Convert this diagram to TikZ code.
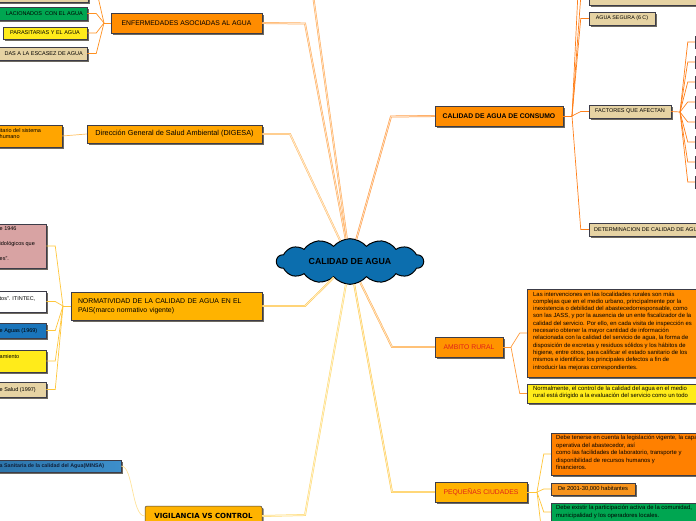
\documentclass[tikz,border=0pt]{standalone}
\usepackage{fontspec}
\setmainfont{Liberation Sans}
\newfontfamily\verd{DejaVu Sans}
\usetikzlibrary{shapes.symbols,shadows,calc}
\definecolor{bord}{HTML}{3C3C48}
\definecolor{shad}{HTML}{6E6A60}
\definecolor{orA}{HTML}{FF8C00}
\definecolor{orB}{HTML}{FFA500}
\definecolor{orC}{HTML}{FFB300}
\definecolor{orD}{HTML}{FF9400}
\definecolor{orE}{HTML}{FF8000}
\definecolor{orF}{HTML}{F7941D}
\definecolor{tanc}{HTML}{E6D3A3}
\definecolor{yel}{HTML}{FFEB1A}
\definecolor{grn}{HTML}{00A651}
\definecolor{pink}{HTML}{D8A3A3}
\definecolor{bluec}{HTML}{1A75BB}
\definecolor{cblue}{HTML}{0C6EAE}
\definecolor{vl}{HTML}{1F5F90}
\definecolor{vr}{HTML}{3D8FCB}
\definecolor{navy}{HTML}{10203A}
\definecolor{redt}{HTML}{E0201B}
\definecolor{lENF}{HTML}{FF9020}
\definecolor{lDIG}{HTML}{FFC060}
\definecolor{lNOR}{HTML}{FFC63A}
\definecolor{lVIG}{HTML}{FFE39A}
\definecolor{lCON}{HTML}{FF7F1A}
\definecolor{lAMB}{HTML}{FF9A3A}
\definecolor{lPEQ}{HTML}{FFC437}
\definecolor{mENF}{HTML}{FFAA55}
\definecolor{mDIG}{HTML}{FFC070}
\definecolor{mNOR}{HTML}{FFC850}
\definecolor{mVIG}{HTML}{FFDA70}
\definecolor{mCON}{HTML}{FF9A40}
\definecolor{mAMB}{HTML}{FFB050}
\definecolor{mPEQ}{HTML}{FFCC50}
\begin{document}
\begin{tikzpicture}[x=1pt,y=-1pt,
  bx/.style={draw=bord,line width=0.5pt,inner sep=0pt,align=center,
    drop shadow={shadow xshift=1.7pt,shadow yshift=-1.7pt,fill=shad,opacity=1}},
  lbl/.style={inner sep=0pt,align=left},
  sm/.style={font=\fontsize{5.5}{6.2}\selectfont},
  cl/.style={draw=#1,line width=0.7pt},
  ml/.style={draw=#1,line width=0.5pt,double=#1!35!white,double distance=0.9pt}]
\useasboundingbox (0,0) rectangle (696,520);

% ---------- centre ----------
\node[cloud,cloud puffs=14,cloud puff arc=100,aspect=3.4,minimum width=147pt,minimum height=44pt,
  inner sep=0pt,fill=cblue,draw=black,line width=1pt,font=\bfseries\fontsize{8.8}{10}\selectfont] (cl) at (350,261.5) {CALIDAD DE AGUA};

% ---------- ENFERMEDADES ----------
\node[bx,fill=orA,minimum width=151pt,minimum height=20pt,font=\fontsize{6.8}{8}\selectfont] (ENF) at (186.5,23) {ENFERMEDADES ASOCIADAS AL AGUA};
\node[bx,fill=tanc,minimum width=128pt,minimum height=17pt] (enf0) at (24,-6.5) {};
\node[bx,fill=grn,minimum width=127pt,minimum height=13pt] (enf1) at (23.5,13.5) {};
\node[lbl,sm,anchor=east] (enf1t) at (83,13.7) {LACIONADOS\ \ CON EL AGUA};
\node[bx,fill=yel,minimum width=84pt,minimum height=12pt,sm] (enf2) at (45,33) {PARASITARIAS Y EL AGUA};
\node[bx,fill=tanc,minimum width=127pt,minimum height=13pt] (enf3) at (23.5,53.5) {};
\node[lbl,sm,anchor=east] (enf3t) at (83,53.7) {DAS A LA ESCASEZ DE AGUA};
\coordinate (ej) at (104,23);
\draw[cl=lENF] (ENF.west) -- (ej);
\draw[cl=lENF] (ej) -- ([xshift=9pt]enf0.east) -- (enf0.east);
\draw[cl=lENF] (ej) -- ([xshift=9pt]enf1.east) -- (enf1.east);
\draw[cl=lENF] (ej) -- ([xshift=9pt]enf2.east) -- (enf2.east);
\draw[cl=lENF] (ej) -- ([xshift=9pt]enf3.east) -- (enf3.east);

% ---------- DIGESA ----------
\node[bx,fill=orB,minimum width=175pt,minimum height=18pt,font=\fontsize{7.3}{8}\selectfont] (DIG) at (174.5,134) {Dirección General de Salud Ambiental (DIGESA)};
\node[bx,fill=orB,minimum width=122pt,minimum height=22pt] (dig1) at (1,136) {};
\node[lbl,sm,anchor=north west] (dig1t) at (-0.5,128.5) {itario del sistema\\humano};
\draw[cl=lDIG] (DIG.west) -- (dig1.east);

% ---------- NORMATIVIDAD ----------
\node[bx,fill=orC,minimum height=28pt,inner xsep=7pt,text width=177pt,align=left,font=\fontsize{6.9}{8.7}\selectfont] (NOR) at (166.5,306) {NORMATIVIDAD DE LA CALIDAD DE AGUA EN EL\\PAIS(marco normativo vigente)};
\node[bx,fill=pink,minimum width=106pt,minimum height=44pt] (nor1) at (-7,246) {};
\node[lbl,anchor=north west,font=\fontsize{5.5}{15}\selectfont] (nor1t) at (-0.5,226.5) {e 1946\\idológicos que\\es”.};
\node[bx,fill=white,minimum width=106pt,minimum height=21pt] (nor2) at (-7,301.5) {};
\node[lbl,sm,anchor=west] (nor2t) at (-0.5,298.5) {tos”. ITINTEC,};
\node[bx,fill=bluec,minimum width=106pt,minimum height=15pt] (nor3) at (-7,330.5) {};
\node[lbl,sm,anchor=west] (nor3t) at (-0.5,331) {e Aguas (1969)};
\node[bx,fill=yel,minimum width=106pt,minimum height=22pt] (nor4) at (-7,361) {};
\node[lbl,sm,anchor=west] (nor4t) at (-0.5,357) {amiento};
\node[bx,fill=tanc,minimum width=106pt,minimum height=15pt] (nor5) at (-7,389.5) {};
\node[lbl,sm,anchor=west] (nor5t) at (-0.5,390) {e Salud (1997)};
\coordinate (nj) at (63,306);
\draw[cl=lNOR] (NOR.west) -- (nj);
\foreach \n in {nor1,nor2,nor3,nor4,nor5}
  \draw[cl=lNOR] (nj) -- ([xshift=9pt]\n.east) -- (\n.east);

% ---------- VIGILANCIA ----------
\node[bx,fill=orC,rounded corners=2pt,minimum width=117pt,minimum height=20pt,font=\verd\bfseries\fontsize{7}{8}\selectfont] (VIG) at (203.5,516) {VIGILANCIA VS CONTROL};
\node[bx,left color=vl,right color=vr,minimum width=221pt,minimum height=12pt] (vig1) at (10.5,466) {};
\node[lbl,anchor=west,text=navy,font=\bfseries\fontsize{5.3}{6}\selectfont] (vig1t) at (-0.5,466) {a Sanitaria de la calidad del Agua(MINSA)};
\draw[cl=lVIG] (vig1.east) .. controls +(12,0) and +(-13,0) .. (VIG.west);

% ---------- CALIDAD DE AGUA DE CONSUMO ----------
\node[bx,fill=orA,minimum width=128pt,minimum height=20pt,font=\bfseries\fontsize{6.8}{8}\selectfont] (CON) at (499,116) {CALIDAD DE AGUA DE CONSUMO};
\node[bx,fill=tanc,minimum width=132pt,minimum height=16pt] (con0) at (655,-3) {};
\node[bx,fill=tanc,minimum width=66pt,minimum height=13pt,font=\fontsize{5.3}{6}\selectfont] (con1) at (622,18.5) {AGUA SEGURA (6 C)};
\node[bx,fill=tanc,minimum width=82pt,minimum height=13pt,sm] (con2) at (630,111.5) {FACTORES QUE AFECTAN};
\node[bx,fill=tanc,minimum width=171pt,minimum height=13pt] (con3) at (674.5,229.5) {};
\node[lbl,sm,anchor=west] (con3t) at (594,229.7) {DETERMINACION DE CALIDAD DE AGUA};
\coordinate (cj) at (572,116);
\coordinate (cup) at (578,-8);
\draw[cl=lCON] (CON.east) -- (cj);
\draw[cl=lCON] (cj) -- (cup);
\foreach \n in {con0,con1,con2,con3}
  \draw[cl=lCON] (cj) -- ([xshift=-8pt]\n.west) -- (\n.west);
\coordinate (fj) at (680,112);
\draw[cl=lCON] (con2.east) -- (fj);
\foreach \i/\y in {1/42,2/62,3/82,4/102,5/122,6/142,7/162,8/182}{
  \node[bx,fill=tanc,minimum width=22pt,minimum height=12pt] (fc\i) at (706,\y) {};
  \draw[cl=lCON] (fj) -- ([xshift=-7pt]fc\i.west) -- (fc\i.west);
}

% ---------- AMBITO RURAL ----------
\node[bx,fill=orD,minimum width=68pt,minimum height=20pt,text=redt,font=\fontsize{6.8}{8}\selectfont] (AMB) at (469,347) {AMBITO RURAL};
\node[bx,fill=orA,minimum width=233pt,minimum height=88pt] (amb1) at (643.5,333) {};
\node[lbl,anchor=north west,font=\fontsize{5.9}{7.3}\selectfont] (amb1t) at (533,291.5) {Las intervenciones en las localidades rurales son más\\
complejas que en el medio urbano, principalmente por la\\
inexistencia o debilidad del abastecedorresponsable, como\\
son las JASS, y por la ausencia de un ente fiscalizador de la\\
calidad del servicio. Por ello, en cada visita de inspección es\\
necesario obtener la mayor cantidad de información\\
relacionada con la calidad del servicio de agua, la forma de\\
disposición de excretas y residuos sólidos y los hábitos de\\
higiene, entre otros, para calificar el estado sanitario de los\\
mismos e identificar los principales defectos a fin de\\
introducir las mejoras correspondientes.};
\node[bx,fill=yel,minimum width=233pt,minimum height=19pt] (amb2) at (643.5,393.5) {};
\node[lbl,anchor=north west,font=\fontsize{5.9}{7}\selectfont] (amb2t) at (533,386.5) {Normalmente, el control de la calidad del agua en el medio\\rural está dirigido a la evaluación del servicio como un todo};
\coordinate (aj) at (511,347);
\draw[cl=lAMB] (AMB.east) -- (aj);
\draw[cl=lAMB] (aj) -- ([xshift=-7pt]amb1.west) -- (amb1.west);
\draw[cl=lAMB] (aj) -- ([xshift=-7pt]amb2.west) -- (amb2.west);

% ---------- PEQUEÑAS CIUDADES ----------
\node[bx,fill=orC,minimum width=92pt,minimum height=20pt,text=redt,font=\fontsize{6.8}{8}\selectfont] (PEQ) at (481,492) {PEQUEÑAS CIUDADES};
\node[bx,fill=orE,minimum width=209pt,minimum height=42pt] (peq1) at (655.5,454) {};
\node[lbl,anchor=north west,font=\fontsize{5.9}{7.6}\selectfont] (peq1t) at (556,435) {Debe tenerse en cuenta la legislación vigente, la capacidad\\
operativa del abastecedor, así\\
como las facilidades de laboratorio, transporte y\\
disponibilidad de recursos humanos y\\
financieros.};
\node[bx,fill=orF,minimum width=84pt,minimum height=12pt,font=\fontsize{5.8}{6.5}\selectfont] (peq2) at (593,489) {De 2001-30,000 habitantes};
\node[bx,fill=grn,minimum width=209pt,minimum height=38pt] (peq3) at (655.5,522) {};
\node[lbl,anchor=north west,font=\fontsize{5.9}{7.8}\selectfont] (peq3t) at (556,505) {Debe existir la participación activa de la comunidad,\\municipalidad y los operadores locales.};
\coordinate (pj) at (537,492);
\coordinate (pdn) at (541,526);
\draw[cl=lPEQ] (PEQ.east) -- (pj);
\draw[cl=lPEQ] (pj) -- ([xshift=-7pt]peq1.west) -- (peq1.west);
\draw[cl=lPEQ] (pj) -- ([xshift=-7pt]peq2.west) -- (peq2.west);
\draw[cl=lPEQ] (pj) -- ([xshift=-7pt,yshift=10pt]peq3.west) -- ([yshift=10pt]peq3.west);
\draw[cl=lPEQ] (pj) -- (pdn);

% ---------- main connectors ----------
\coordinate (eb) at (305,23.5);
\coordinate (tb) at (313,-5);
\coordinate (db) at (290,134);
\coordinate (nb) at (305,306);
\coordinate (vb) at (305,515);
\coordinate (cb) at (391,116.5);
\coordinate (ab) at (392,347);
\coordinate (pb) at (392,492);
\draw[ml=mENF] (ENF.east) -- (eb) -- (cl);
\draw[ml=mENF] (tb) -- (cl);
\draw[ml=mDIG] (DIG.east) -- (db) -- (cl);
\draw[ml=mNOR] (NOR.east) -- (nb) -- (cl);
\draw[ml=mVIG] (VIG.east) -- (vb) -- (cl);
\draw[ml=mCON] (CON.west) -- (cb) -- (cl);
\draw[ml=mAMB] (AMB.west) -- (ab) -- (cl);
\draw[ml=mPEQ] (PEQ.west) -- (pb) -- (cl);
\end{tikzpicture}
\end{document}
